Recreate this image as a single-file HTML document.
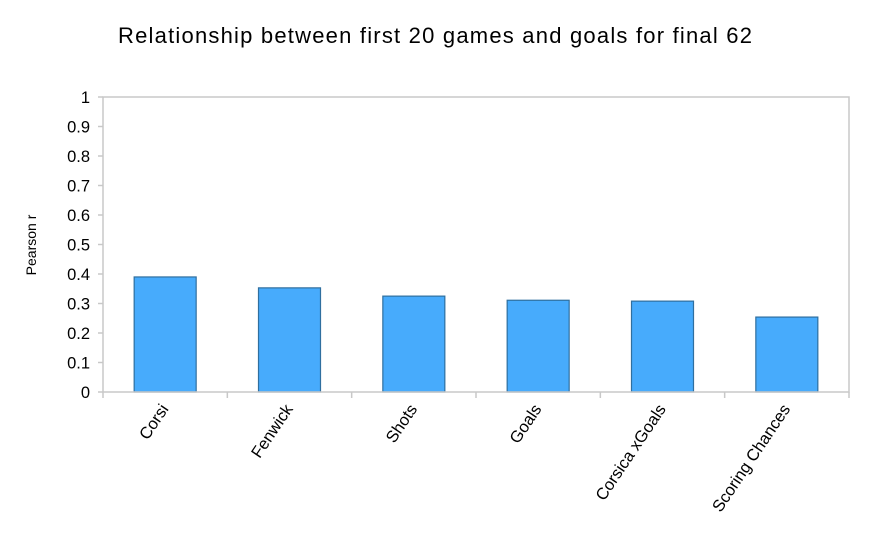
<!DOCTYPE html>
<html><head><meta charset="utf-8"><style>
body{margin:0;background:#fff;font-family:"Liberation Sans",sans-serif}
</style></head><body>
<svg id="c" width="870" height="542" xmlns="http://www.w3.org/2000/svg" font-family="Liberation Sans, sans-serif">
<text x="118" y="43" font-size="22" textLength="634" lengthAdjust="spacing">Relationship between first 20 games and goals for final 62</text>
<text transform="translate(36,245) rotate(-90)" text-anchor="middle" font-size="14">Pearson r</text>
<g id="grid"></g><g id="bars"></g><g id="axes"></g>
</svg>
<script>
const categories=["Corsi","Fenwick","Shots","Goals","Corsica xGoals","Scoring Chances"];
const values=[0.39,0.353,0.325,0.311,0.308,0.254];
const yTicks=[0,0.1,0.2,0.3,0.4,0.5,0.6,0.7,0.8,0.9,1];
const yTickLabels=["0","0.1","0.2","0.3","0.4","0.5","0.6","0.7","0.8","0.9","1"];
const NS="http://www.w3.org/2000/svg";
const L=103,R=849,T=97,B=392;
const y=v=>B-(v-0)/(1-0)*(B-T);
const bw=(R-L)/categories.length;
const x=i=>L+bw*i;
function mk(tag,attrs,parent){const e=document.createElementNS(NS,tag);for(const k in attrs)e.setAttribute(k,attrs[k]);parent.appendChild(e);return e;}
const axes=document.getElementById('axes'),bars=document.getElementById('bars');
let fr=mk('rect',{x:L,y:T,width:R-L,height:B-T,fill:'none',stroke:'#c8c8c8','stroke-width':1.5},axes);


yTicks.forEach((t,i)=>{
  const tk=mk('line',{x1:L-5,x2:L,y1:y(t),y2:y(t),stroke:'#c8c8c8','stroke-width':1.5},axes);
  
  
  const tl=mk('text',{x:L-13,y:y(t)+6,'text-anchor':'end','font-size':16.5},axes);
  tl.textContent=yTickLabels[i];
  
  
});
for(let i=0;i<=categories.length;i++){
  const tk=mk('line',{x1:x(i),x2:x(i),y1:B,y2:B+6,stroke:'#c8c8c8','stroke-width':1.5},axes);
  
  
}
categories.forEach((c,i)=>{
  const cx=x(i)+bw/2;
  const r=mk('rect',{x:cx-31,y:y(values[i]),width:62,height:B-y(values[i]),fill:'#47abfc',stroke:'#2f6f9f','stroke-width':1.2},bars);
  
  
  const t=mk('text',{transform:`translate(${cx+4},${B+17}) rotate(-56)`,'text-anchor':'end','font-size':16.5},axes);
  t.textContent=c;
  
  
});
</script>
</body></html>
